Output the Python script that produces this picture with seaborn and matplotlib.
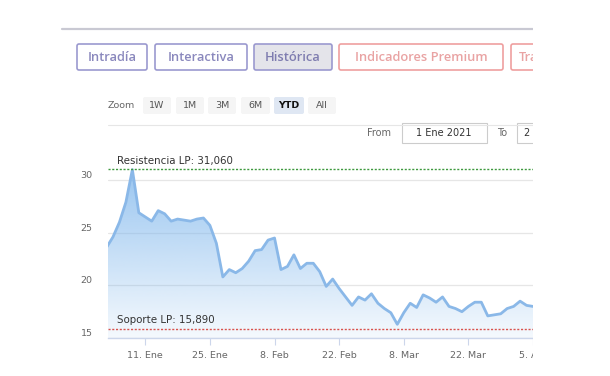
import numpy as np
import pandas as pd
import seaborn as sns
import matplotlib
matplotlib.use('Agg')
import matplotlib.pyplot as plt
import matplotlib.transforms as mtransforms
from matplotlib.patches import FancyBboxPatch, Rectangle
from matplotlib.lines import Line2D

# trading days, YTD 2021 (plus last close of 2020 feeding the left edge)
dates = pd.bdate_range("2020-12-31", "2021-04-05", freq="C", holidays=["2021-01-01"])
price = [23.6, 24.6, 26.0, 27.9, 31.0, 26.9, 26.5, 26.1, 27.1, 26.8,
         26.1, 26.3, 26.2, 26.1, 26.3, 26.4, 25.7, 24.0, 20.8, 21.5,
         21.2, 21.6, 22.3, 23.3, 23.4, 24.3, 24.5, 21.5, 21.8, 22.9,
         21.6, 22.1, 22.1, 21.3, 19.9, 20.6, 19.7, 18.9, 18.1, 18.9,
         18.6, 19.2, 18.3, 17.8, 17.4, 16.3, 17.4, 18.3, 17.9, 19.1,
         18.8, 18.4, 18.9, 18.0, 17.8, 17.5, 18.0, 18.4, 18.4, 17.1,
         17.2, 17.3, 17.8, 18.0, 18.5, 18.1, 18.0]
resistencia = 31.06
soporte = 15.89
tick_dates = ["2021-01-11", "2021-01-25", "2021-02-08", "2021-02-22",
              "2021-03-08", "2021-03-22", "2021-04-05"]
tick_labels = ["11. Ene", "25. Ene", "8. Feb", "22. Feb", "8. Mar", "22. Mar", "5. Abr"]
y_ticks = [15, 20, 25, 30]

df = pd.DataFrame({"date": dates, "price": price})
df["pos"] = np.arange(len(df))  # ordinal axis like highstock

sns.set_theme(style="white")
plt.rcParams['font.family'] = ['DejaVu Sans']

W, H = 610, 376
fig = plt.figure(figsize=(W / 100, H / 100), dpi=100)
fig.patch.set_facecolor('white')
px = mtransforms.Affine2D().scale(1 / W, -1 / H).translate(0, 1) + fig.transFigure

ax = fig.add_axes([108 / W, 1 - 338 / H, (533 - 108) / W, 180 / H])
ax.set_facecolor('none')

blue = '#7cb5ec'
sns.lineplot(data=df, x="pos", y="price", ax=ax, color='#8ab8e8', linewidth=2.0, zorder=3)

# gradient area
xmin, xmax = 0.23, 66.0
ymin, ymax = 15, 32.1
poly = ax.fill_between(df["pos"], df["price"], ymin, color='none', linewidth=0)
rgb = matplotlib.colors.to_rgb(blue)
grad = np.zeros((256, 1, 4))
grad[:, 0, :3] = rgb
grad[:, 0, 3] = np.linspace(0.08, 0.82, 256)
img = ax.imshow(grad, extent=[-1, 67, ymin, ymax], origin='lower', aspect='auto', zorder=2)
img.set_clip_path(poly.get_paths()[0], transform=ax.transData)

# support / resistance
ax.axhline(resistencia, color='#3f9a3f', linestyle=(0, (1.5, 1.2)), linewidth=1.0, zorder=4)
ax.axhline(soporte, color='#d9534f', linestyle=(0, (1.5, 1.2)), linewidth=1.0, zorder=4)
ax.text(1.7, resistencia + 0.3, "Resistencia LP: " + f"{resistencia:.3f}".replace('.', ','),
        fontsize=7.4, color='#333333', va='bottom', ha='left', zorder=5)
ax.text(1.7, soporte + 0.3, "Soporte LP: " + f"{soporte:.3f}".replace('.', ','),
        fontsize=7.4, color='#333333', va='bottom', ha='left', zorder=5)

ax.set_xlim(xmin, xmax)
ax.set_ylim(ymin, ymax)
tick_pos = [df.index[df["date"] == pd.Timestamp(d)][0] for d in tick_dates]
ax.set_xticks(tick_pos, tick_labels)
ax.set_yticks(y_ticks, [str(v) for v in y_ticks])
ax.set_xlabel("")
ax.set_ylabel("")
ax.grid(axis='y', color='#e6e6e6', linewidth=0.9)
ax.grid(axis='x', visible=False)
for s in ['top', 'right', 'left']:
    ax.spines[s].set_visible(False)
ax.spines['bottom'].set_color('#ccd6eb')
ax.spines['bottom'].set_linewidth(1.0)
ax.tick_params(axis='x', length=5, width=0.8, color='#ccd6eb', labelsize=6.8, labelcolor='#666666', pad=4, bottom=True)
ax.tick_params(axis='y', length=0, labelsize=6.8, labelcolor='#666666', pad=11)
for t in ax.yaxis.get_major_ticks():
    t.label1.set_va('bottom')

# page chrome above the chart
fig.add_artist(Line2D([62, 533], [28.5, 28.5], transform=px, color='#c9c9d3', linewidth=1.6))

buttons = [("Intradía", 77, 147, '#9b99cf', '#8a88bd', 'white'),
           ("Interactiva", 155, 247, '#9b99cf', '#8a88bd', 'white'),
           ("Histórica", 254, 332, '#9b99cf', '#7f7db0', '#e4e4ea'),
           ("Indicadores Premium", 339, 503, '#ef9f9f', '#e9a3a3', 'white'),
           ("Trading", 511, 572, '#ef9f9f', '#e9a3a3', 'white')]
for label, x0, x1, ec, tc, fc in buttons:
    fig.add_artist(FancyBboxPatch((x0, 44), x1 - x0, 26, boxstyle='round,pad=0,rounding_size=2',
                                  transform=px, facecolor=fc, edgecolor=ec, linewidth=1.2))
    fig.text((x0 + x1) / 2, 57.5, label, transform=px, ha='center', va='center',
             fontsize=9.3, fontweight='semibold', color=tc, family='Open Sans')

fig.text(108, 105, "Zoom", transform=px, ha='left', va='center', fontsize=6.8, color='#666666')
zoom_btns = [("1W", 143, 171), ("1M", 176, 204), ("3M", 208, 236),
             ("6M", 241, 270), ("YTD", 274, 304), ("All", 308, 336)]
for label, x0, x1 in zoom_btns:
    sel = label == "YTD"
    fig.add_artist(FancyBboxPatch((x0, 97), x1 - x0, 17, boxstyle='round,pad=0,rounding_size=2',
                                  transform=px, facecolor='#dfe7f3' if sel else '#f5f5f5',
                                  edgecolor='none'))
    fig.text((x0 + x1) / 2, 105.5, label, transform=px, ha='center', va='center',
             fontsize=6.8, color='#111111' if sel else '#555555',
             fontweight='bold' if sel else 'normal')
fig.add_artist(Line2D([108, 533], [125, 125], transform=px, color='#e6e6e6', linewidth=0.8))
fig.text(367, 133, "From", transform=px, ha='left', va='center', fontsize=7, color='#666666')
fig.add_artist(Rectangle((402, 123), 85, 20, transform=px, facecolor='white', edgecolor='#cccccc', linewidth=0.8))
fig.text(444, 133, "1 Ene 2021", transform=px, ha='center', va='center', fontsize=7, color='#333333')
fig.text(497, 133, "To", transform=px, ha='left', va='center', fontsize=7, color='#666666')
fig.add_artist(Rectangle((517, 123), 85, 20, transform=px, facecolor='white', edgecolor='#cccccc', linewidth=0.8))
fig.text(524, 133, "2 Abr 2021", transform=px, ha='left', va='center', fontsize=7, color='#333333')

# page is cut on the right
mask = Rectangle((533, 0), W, H, transform=px, facecolor='white', edgecolor='none', zorder=100)
fig.add_artist(mask)

fig.savefig("out.png", dpi=100)
